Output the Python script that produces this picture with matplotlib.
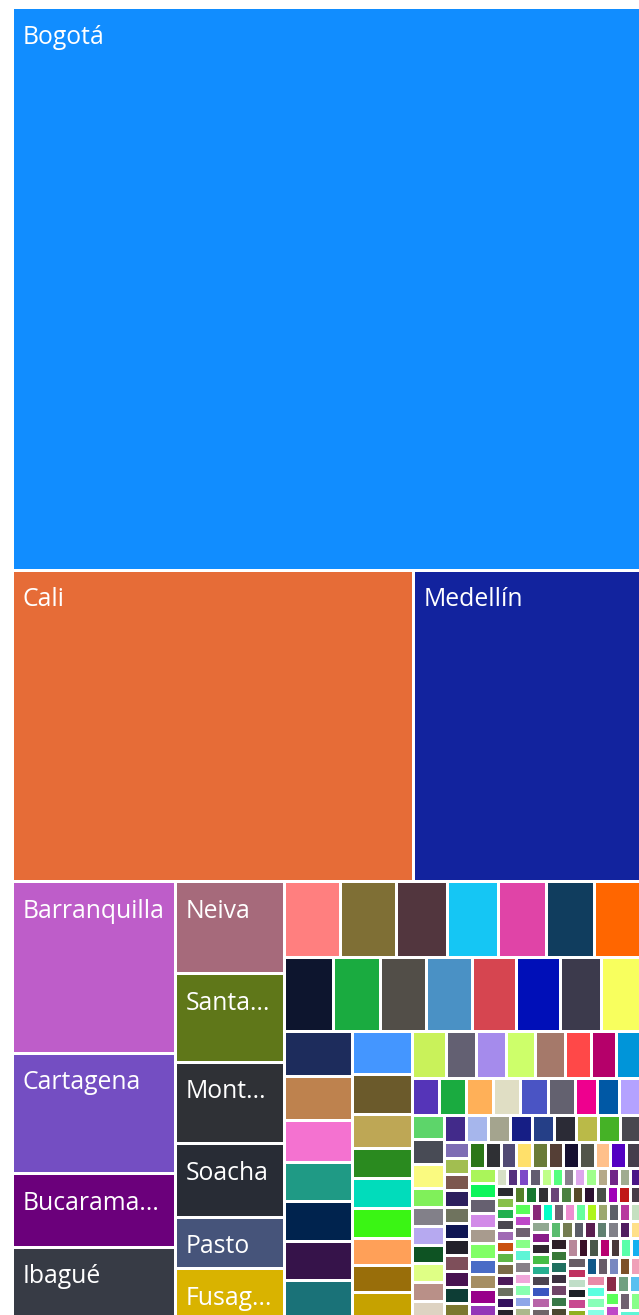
import matplotlib
matplotlib.use("Agg")
import matplotlib.pyplot as plt
from matplotlib.patches import Rectangle

# ---------------- data ----------------
labels = ["Bogotá", "Cali", "Medellín", "Barranquilla", "Cartagena", "Bucarama...",
          "Ibagué", "Neiva", "Santa...", "Mont...", "Soacha", "Pasto", "Fusag..."]
named_counts = [1770, 623, 356, 139.5, 98, 59.6, 58.7, 50.5, 48.3, 44.6, 40.1, 28.2, 27.7]

other_counts = [
    21.3, 21.3, 19.3, 19.2, 18.3, 18.2, 18.1,
    18.1, 17.2, 17.1, 17.1, 16.2, 16.1, 15.2, 15.0,
    15.1, 15.0, 14.2, 13.3, 13.3, 13.2, 13.2,
    12.9, 12.0, 10.1, 9.05, 9.0, 9.0, 8.15, 8.1, 8.1,
    8.0, 7.05, 7.0, 7.0, 7.0, 6.0, 6.0, 5.9,
    5.0, 5.0, 5.0, 5.0, 5.0, 5.0, 4.1, 4.1, 4.1,
    4.0, 4.0, 4.0, 3.1, 3.05, 3.05, 3.05, 3.05, 3.05, 3.0,
    3, 3, 3, 3, 3, 3, 3, 3, 3,
    2, 2, 2, 2, 2, 2, 2, 2, 2, 2, 2,
    2, 2, 2, 2, 2, 2, 2, 2, 2, 2, 2,
    2, 2, 2, 2, 2, 2, 2, 2, 2, 2,
    1, 1, 1, 1, 1, 1, 1, 1, 1, 1, 1, 1, 1,
    1, 1, 1, 1, 1, 1, 1, 1, 1, 1, 1, 1,
    1, 1, 1, 1, 1, 1, 1, 1, 1, 1, 1,
    1, 1, 1, 1, 1, 1, 1, 1, 1, 1, 1, 1, 1, 1, 1, 1, 1, 1, 1, 1,
    1, 1, 1, 1, 1, 1, 1, 1, 1, 1, 1, 1, 1, 1, 1, 1, 1, 1, 1, 1,
    1, 1, 1, 1, 1, 1, 1, 1, 1, 1, 1, 1, 1, 1, 1, 1, 1, 1, 1, 1,
    1, 1, 1, 1, 1, 1, 1, 1, 1, 1, 1, 1, 1, 1,
]

# ---------------- colours ----------------
named_colors = ["#118DFF", "#E66C37", "#12239E", "#BE5DC9", "#744EC2", "#6B007B",
                "#373B45", "#A66A7B", "#5F7719", "#2F3136", "#282C35", "#46547A", "#D9B300"]
other_colors = [
    "#FF7F7F", "#7F6F35", "#52363E", "#15C6F4", "#E044A7", "#103D5E", "#FF6600",
    "#0D152E", "#1AAB40", "#524E48", "#4A91C5", "#D64550", "#000FB8", "#3C3A4C", "#F8FF5E",
    "#1D2C5C", "#BE824E", "#F472D0", "#1F9A85", "#00234E", "#36134A", "#1A7278",
    "#4496FF", "#6B5A2B", "#BEA755", "#2A8A1F", "#01DCBB", "#3AF514", "#FFA058", "#996E0A", "#C6A200",
    "#C9F25A", "#636072", "#A58BEC", "#CDFF6A", "#A5796A", "#FF4848", "#B5006A", "#0095D9",
    "#5534B8", "#1AAB40", "#FFB058", "#E0DEC4", "#4A54C4", "#63616F", "#EE008E", "#0058A5", "#B4A2FF",
    "#5DD56A", "#484B55", "#FAFA80", "#80F05A", "#828089", "#B6A9F0", "#0E5323", "#DFFF85", "#B99088", "#DED3C2",
    "#422A8A", "#A6B6EC", "#A4A48E", "#161E85", "#253F87", "#2B2B36", "#BABA48", "#45B226", "#48474F",
    "#7E6DB4", "#A2BE50", "#7C574E", "#2C1F5E", "#6F735E", "#0F1653", "#22202A", "#7E4F5A", "#471250", "#0D3D35", "#7B7830",
    "#2C7618", "#2F3034", "#514A74", "#FFE06A", "#6A7B38", "#553F36", "#150F30", "#52544A", "#FFC08A", "#5300C2", "#453E4C",
    "#AAF55A", "#0CF55A", "#666070", "#D28AE8", "#A89B8E", "#80FF66", "#4A6CC6", "#A58E63", "#98008A", "#9436B8",
    "#D6E0C6", "#55307E", "#7D48C8", "#625C70", "#C0FF88", "#55FF7E", "#87808C", "#DDA6EC", "#A0FF8C", "#B5A988", "#702688", "#A0AC90", "#4A1688",
    "#2A2A30", "#87C04A", "#23B04F", "#4A4650", "#A06AB4", "#C9500F", "#5FB846", "#7B6B48", "#4C1A5A", "#6A7060", "#34115E", "#26222A",
    "#55802A", "#187830", "#303033", "#6A4478", "#4A8040", "#564A2A", "#2A0F30", "#485048", "#A000B8", "#C01818", "#473C48",
]
tail_palette = ["#5AFF5A", "#BE48C8", "#6F6070", "#88FF88", "#5EF5D6", "#888088", "#F0A6DA", "#88FFB0",
                "#8EA6E8", "#ACB88C", "#882878", "#04FFC8", "#6E6070", "#EE8ED0", "#66FF9E", "#AEF51A",
                "#9CA86E", "#5C6068", "#B8389E", "#C4E0C0", "#90A890", "#881C88", "#302830", "#46BE46",
                "#26B090", "#4C4450", "#3A56C0", "#B864A8", "#706468", "#5ABC6E", "#747C50", "#5A5C68",
                "#5A1E50", "#608070", "#808088", "#501C60", "#FFE088", "#2E2028", "#387838", "#207060",
                "#3C3040", "#704468", "#387848", "#4C4830", "#B8889A", "#3A1028", "#485848", "#B80070",
                "#483838", "#5AFFAA", "#16B0F0", "#665C64", "#C03060", "#C0DEC8", "#1C2026", "#C84890",
                "#90B020", "#105888", "#685C68", "#7888C0", "#7C5028", "#F0A0B8", "#E88AA8", "#5AFFE0",
                "#88FFB8", "#88FFE6", "#8A2A48", "#70A080", "#58C0F0"]

values = named_counts + other_counts
colors = list(named_colors) + list(other_colors)
k = 0
while len(colors) < len(values):
    colors.append(tail_palette[k % len(tail_palette)])
    k += 1

# ---------------- squarified layout (golden ratio, like d3) ----------------
PHI = (1 + 5 ** 0.5) / 2


def squarify(vals, x0, y0, x1, y1, ratio=PHI):
    n = len(vals)
    rects = [None] * n
    i0 = i1 = 0
    value = float(sum(vals))
    while i0 < n:
        dx, dy = x1 - x0, y1 - y0
        sum_v = vals[i1]
        i1 += 1
        min_v = max_v = sum_v
        alpha = max(dy / dx, dx / dy) / (value * ratio)
        beta = sum_v * sum_v * alpha
        min_ratio = max(max_v / beta, beta / min_v)
        while i1 < n:
            nv = vals[i1]
            s2 = sum_v + nv
            mn, mx = min(min_v, nv), max(max_v, nv)
            beta = s2 * s2 * alpha
            new_ratio = max(mx / beta, beta / mn)
            if new_ratio > min_ratio:
                break
            sum_v, min_v, max_v, min_ratio = s2, mn, mx, new_ratio
            i1 += 1
        row = vals[i0:i1]
        if dx < dy:
            h = dy * sum_v / value
            x = x0
            for j, v in enumerate(row):
                w = dx * v / sum_v
                rects[i0 + j] = (x, y0, w, h)
                x += w
            y0 += h
        else:
            w = dx * sum_v / value
            y = y0
            for j, v in enumerate(row):
                h = dy * v / sum_v
                rects[i0 + j] = (x0, y, w, h)
                y += h
            x0 += w
        value -= sum_v
        i0 = i1
    return rects


W, H = 639, 1315
fig = plt.figure(figsize=(W / 100, H / 100), dpi=100)
ax = fig.add_axes([0, 0, 1, 1])
ax.set_xlim(0, W)
ax.set_ylim(H, 0)
ax.axis("off")

rects = squarify(values, 12.5, 7.5, 642.0, 1319.5)
g = 1.5
for i, (x, y, w, h) in enumerate(rects):
    ax.add_patch(Rectangle((x + g, y + g), max(w - 2 * g, 0.3), max(h - 2 * g, 0.3),
                           facecolor=colors[i], edgecolor="none"))

for i, lab in enumerate(labels):
    x, y, w, h = rects[i]
    ax.text(x + g + 9, y + g + 34.5, lab, color="white", fontsize=17.8,
            family=["Open Sans", "DejaVu Sans"], va="baseline", ha="left")

fig.savefig("out.png", dpi=100)
